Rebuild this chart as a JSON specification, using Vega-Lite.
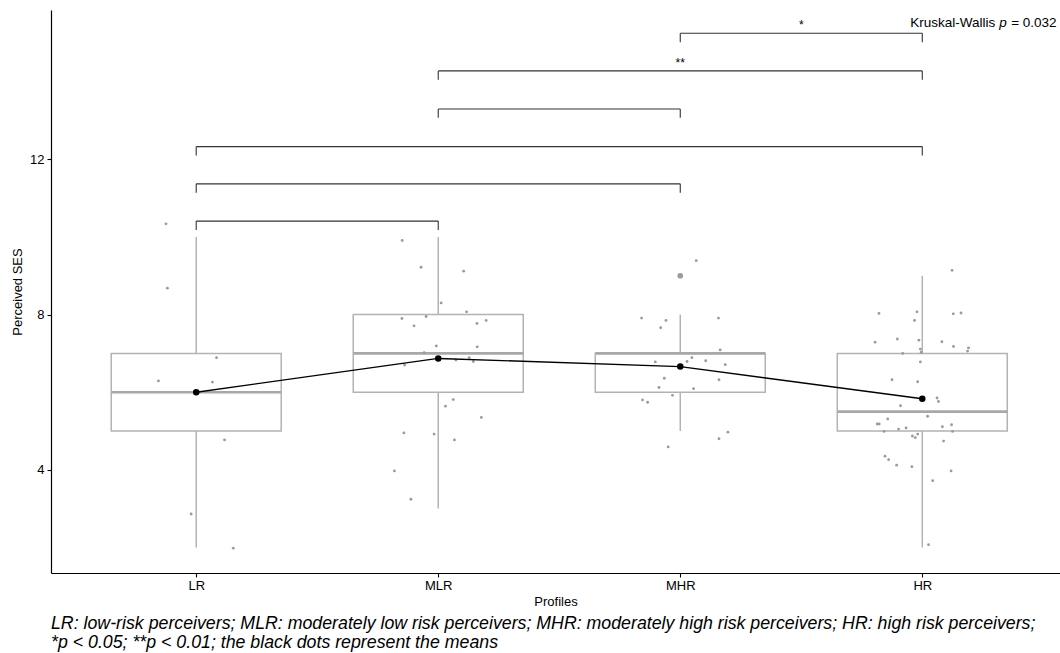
{
  "$schema": "https://vega.github.io/schema/vega-lite/v6.json",
  "width": 1009,
  "height": 563,
  "autosize": "none",
  "padding": {"left": 51, "top": 10, "right": 0, "bottom": 80},
  "background": "white",
  "config": {
    "font": "Liberation Sans",
    "view": {"stroke": null},
    "axis": {"grid": false, "domainColor": "black", "domainWidth": 1.2, "tickColor": "black", "tickWidth": 1.1, "tickSize": 4, "labelColor": "black", "labelFontSize": 13, "titleFontSize": 13, "titleFontWeight": "normal", "titleColor": "black", "labelFont": "Liberation Sans", "titleFont": "Liberation Sans"}
  },
  "title": {
    "text": ["LR: low-risk perceivers; MLR: moderately low risk perceivers; MHR: moderately high risk perceivers; HR: high risk perceivers;", "*p < 0.05; **p < 0.01; the black dots represent the means"],
    "orient": "bottom", "anchor": "start", "frame": "group", "offset": 7,
    "fontSize": 17.75, "fontStyle": "italic", "fontWeight": "normal", "color": "black", "lineHeight": 19, "font": "Liberation Sans"
  },
  "datasets": {
    "boxes": [
      {"g": 1, "lo": 2, "q1": 5, "med": 6, "q3": 7, "hi": 10, "mean": 6.0},
      {"g": 2, "lo": 3, "q1": 6, "med": 7, "q3": 8, "hi": 10, "mean": 6.87},
      {"g": 3, "lo": 5, "q1": 6, "med": 7, "q3": 7, "hi": 8, "mean": 6.66},
      {"g": 4, "lo": 2, "q1": 5, "med": 5.5, "q3": 7, "hi": 9, "mean": 5.83}
    ],
    "outliers": [{"g": 3, "v": 9}],
    "pts": [
      {"x": 0.875, "v": 10.34}, {"x": 0.881, "v": 8.68}, {"x": 1.084, "v": 6.89}, {"x": 0.844, "v": 6.29}, {"x": 1.067, "v": 6.26}, {"x": 1.117, "v": 4.77}, {"x": 0.979, "v": 2.86}, {"x": 1.153, "v": 1.98},
      {"x": 1.851, "v": 9.91}, {"x": 1.929, "v": 9.22}, {"x": 2.105, "v": 9.12}, {"x": 2.012, "v": 8.30}, {"x": 2.117, "v": 8.07}, {"x": 1.850, "v": 7.90}, {"x": 1.950, "v": 7.95}, {"x": 1.900, "v": 7.71}, {"x": 2.160, "v": 7.77}, {"x": 2.198, "v": 7.85}, {"x": 1.992, "v": 7.19}, {"x": 2.161, "v": 7.17}, {"x": 1.942, "v": 7.02}, {"x": 2.073, "v": 6.83}, {"x": 2.128, "v": 6.89}, {"x": 2.145, "v": 6.79}, {"x": 1.861, "v": 6.70}, {"x": 2.062, "v": 5.81}, {"x": 2.030, "v": 5.64}, {"x": 2.178, "v": 5.35}, {"x": 1.858, "v": 4.95}, {"x": 1.983, "v": 4.92}, {"x": 2.067, "v": 4.77}, {"x": 1.819, "v": 3.97}, {"x": 1.887, "v": 3.24},
      {"x": 3.066, "v": 9.39}, {"x": 2.840, "v": 7.91}, {"x": 2.941, "v": 7.85}, {"x": 2.919, "v": 7.66}, {"x": 3.158, "v": 7.91}, {"x": 3.165, "v": 7.09}, {"x": 2.897, "v": 6.78}, {"x": 3.028, "v": 6.79}, {"x": 3.048, "v": 6.89}, {"x": 3.105, "v": 6.81}, {"x": 3.186, "v": 6.71}, {"x": 2.934, "v": 6.36}, {"x": 3.160, "v": 6.32}, {"x": 2.912, "v": 6.12}, {"x": 3.055, "v": 6.09}, {"x": 2.968, "v": 5.92}, {"x": 2.844, "v": 5.80}, {"x": 2.865, "v": 5.74}, {"x": 3.197, "v": 4.97}, {"x": 3.160, "v": 4.80}, {"x": 2.950, "v": 4.59},
      {"x": 4.123, "v": 9.14}, {"x": 3.821, "v": 8.03}, {"x": 3.978, "v": 8.07}, {"x": 3.968, "v": 7.85}, {"x": 4.128, "v": 8.02}, {"x": 4.160, "v": 8.04}, {"x": 3.805, "v": 7.29}, {"x": 3.897, "v": 7.37}, {"x": 3.986, "v": 7.34}, {"x": 4.081, "v": 7.30}, {"x": 3.992, "v": 7.11}, {"x": 4.129, "v": 7.18}, {"x": 4.191, "v": 7.14}, {"x": 4.187, "v": 7.06}, {"x": 3.919, "v": 7.00}, {"x": 3.996, "v": 7.03}, {"x": 3.992, "v": 6.78}, {"x": 3.875, "v": 6.32}, {"x": 3.981, "v": 6.27}, {"x": 4.061, "v": 5.85}, {"x": 4.067, "v": 5.76}, {"x": 3.910, "v": 5.65}, {"x": 4.022, "v": 5.38}, {"x": 3.857, "v": 5.31}, {"x": 3.814, "v": 5.18}, {"x": 3.822, "v": 5.18}, {"x": 3.933, "v": 5.08}, {"x": 3.902, "v": 5.05}, {"x": 4.083, "v": 5.11}, {"x": 4.121, "v": 5.16}, {"x": 3.842, "v": 4.99}, {"x": 4.125, "v": 4.99}, {"x": 3.981, "v": 4.92}, {"x": 3.959, "v": 4.87}, {"x": 3.971, "v": 4.83}, {"x": 4.088, "v": 4.74}, {"x": 3.846, "v": 4.35}, {"x": 3.861, "v": 4.26}, {"x": 3.894, "v": 4.12}, {"x": 3.957, "v": 4.08}, {"x": 4.119, "v": 3.97}, {"x": 4.043, "v": 3.72}, {"x": 4.026, "v": 2.07}
    ],
    "brackets": [
      {"x1": 1, "x2": 2, "xm": 1.5, "y": 10.41, "ytip": 10.18, "label": ""},
      {"x1": 1, "x2": 3, "xm": 2.0, "y": 11.37, "ytip": 11.14, "label": ""},
      {"x1": 1, "x2": 4, "xm": 2.5, "y": 12.33, "ytip": 12.10, "label": ""},
      {"x1": 2, "x2": 3, "xm": 2.5, "y": 13.30, "ytip": 13.07, "label": ""},
      {"x1": 2, "x2": 4, "xm": 3.0, "y": 14.28, "ytip": 14.05, "label": "**"},
      {"x1": 3, "x2": 4, "xm": 3.5, "y": 15.25, "ytip": 15.02, "label": "*"}
    ],
    "kw": [{"x": 3.95, "y": 15.42}]
  },
  "layer": [
    {
      "data": {"name": "boxes"},
      "mark": {"type": "rule", "color": "#b3b3b3", "strokeWidth": 1.5},
      "encoding": {
        "x": {"field": "g", "type": "quantitative", "scale": {"domain": [0.4, 4.569], "nice": false, "zero": false, "padding": 0},
              "axis": {"title": "Profiles", "values": [1, 2, 3, 4], "labelExpr": "['LR','MLR','MHR','HR'][datum.value-1]", "labelPadding": 2, "titlePadding": 3, "labelFlush": false}},
        "y": {"field": "lo", "type": "quantitative", "scale": {"domain": [1.34, 15.85], "nice": false, "zero": false, "padding": 0},
              "axis": {"title": "Perceived SES", "values": [4, 8, 12], "labelPadding": 3, "titlePadding": 5}},
        "y2": {"field": "q1"}
      }
    },
    {
      "data": {"name": "boxes"},
      "mark": {"type": "rule", "color": "#b3b3b3", "strokeWidth": 1.5},
      "encoding": {
        "x": {"field": "g", "type": "quantitative"},
        "y": {"field": "q3", "type": "quantitative"},
        "y2": {"field": "hi"}
      }
    },
    {
      "data": {"name": "boxes"},
      "mark": {"type": "bar", "size": 170, "fill": "white", "stroke": "#b3b3b3", "strokeWidth": 1.5},
      "encoding": {
        "x": {"field": "g", "type": "quantitative"},
        "y": {"field": "q1", "type": "quantitative"},
        "y2": {"field": "q3"}
      }
    },
    {
      "data": {"name": "boxes"},
      "mark": {"type": "tick", "orient": "horizontal", "size": 170, "thickness": 2.6, "color": "#a8a8a8", "opacity": 1},
      "encoding": {
        "x": {"field": "g", "type": "quantitative"},
        "y": {"field": "med", "type": "quantitative"}
      }
    },
    {
      "data": {"name": "pts"},
      "mark": {"type": "point", "filled": true, "size": 8, "color": "#9a9a9a", "opacity": 1},
      "encoding": {
        "x": {"field": "x", "type": "quantitative"},
        "y": {"field": "v", "type": "quantitative"}
      }
    },
    {
      "data": {"name": "outliers"},
      "mark": {"type": "point", "filled": true, "size": 32, "color": "#9a9a9a", "opacity": 1},
      "encoding": {
        "x": {"field": "g", "type": "quantitative"},
        "y": {"field": "v", "type": "quantitative"}
      }
    },
    {
      "data": {"name": "boxes"},
      "mark": {"type": "line", "color": "black", "strokeWidth": 1.4},
      "encoding": {
        "x": {"field": "g", "type": "quantitative"},
        "y": {"field": "mean", "type": "quantitative"}
      }
    },
    {
      "data": {"name": "boxes"},
      "mark": {"type": "point", "filled": true, "size": 42, "color": "black", "opacity": 1},
      "encoding": {
        "x": {"field": "g", "type": "quantitative"},
        "y": {"field": "mean", "type": "quantitative"}
      }
    },
    {
      "data": {"name": "brackets"},
      "mark": {"type": "rule", "color": "#333333", "strokeWidth": 1.1},
      "encoding": {
        "x": {"field": "x1", "type": "quantitative"},
        "x2": {"field": "x2"},
        "y": {"field": "y", "type": "quantitative"}
      }
    },
    {
      "data": {"name": "brackets"},
      "mark": {"type": "rule", "color": "#333333", "strokeWidth": 1.1},
      "encoding": {
        "x": {"field": "x1", "type": "quantitative"},
        "y": {"field": "y", "type": "quantitative"},
        "y2": {"field": "ytip"}
      }
    },
    {
      "data": {"name": "brackets"},
      "mark": {"type": "rule", "color": "#333333", "strokeWidth": 1.1},
      "encoding": {
        "x": {"field": "x2", "type": "quantitative"},
        "y": {"field": "y", "type": "quantitative"},
        "y2": {"field": "ytip"}
      }
    },
    {
      "data": {"name": "brackets"},
      "mark": {"type": "text", "fontSize": 12, "color": "black", "baseline": "alphabetic", "dy": -4},
      "encoding": {
        "x": {"field": "xm", "type": "quantitative"},
        "y": {"field": "y", "type": "quantitative"},
        "text": {"field": "label"}
      }
    },
    {
      "data": {"name": "kw"},
      "mark": {"type": "text", "fontSize": 13.5, "color": "black", "align": "left", "baseline": "alphabetic", "text": "Kruskal-Wallis"},
      "encoding": {
        "x": {"field": "x", "type": "quantitative"},
        "y": {"field": "y", "type": "quantitative"}
      }
    },
    {
      "data": {"name": "kw"},
      "mark": {"type": "text", "fontSize": 13.5, "color": "black", "align": "left", "baseline": "alphabetic", "fontStyle": "italic", "dx": 89, "text": "p"},
      "encoding": {
        "x": {"field": "x", "type": "quantitative"},
        "y": {"field": "y", "type": "quantitative"}
      }
    },
    {
      "data": {"name": "kw"},
      "mark": {"type": "text", "fontSize": 13.5, "color": "black", "align": "left", "baseline": "alphabetic", "dx": 101, "text": "= 0.032"},
      "encoding": {
        "x": {"field": "x", "type": "quantitative"},
        "y": {"field": "y", "type": "quantitative"}
      }
    }
  ]
}
